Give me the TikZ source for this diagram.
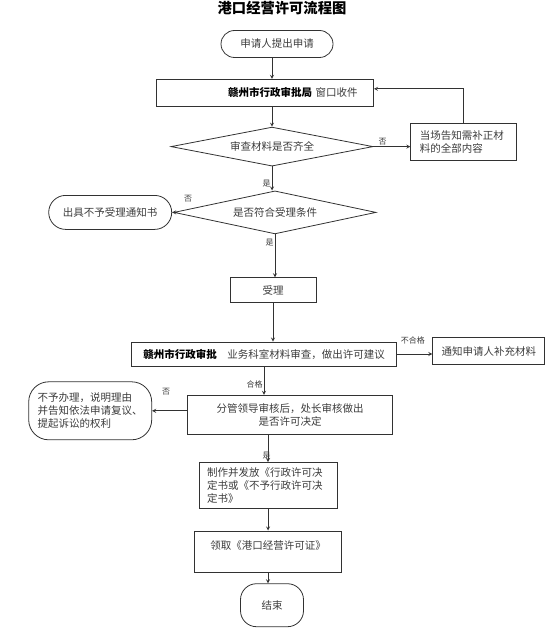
\documentclass[tikz,border=0pt]{standalone}
\usepackage{fontspec}
\setmainfont{Noto Sans CJK SC}
\usetikzlibrary{shapes.geometric, arrows.meta, positioning}
\definecolor{charcoal}{RGB}{50, 50, 50}
\definecolor{inkgray}{RGB}{60, 60, 60}

\begin{document}
\begin{tikzpicture}[x=1pt, y=-1pt,
            stepbox/.style={draw=charcoal, line width=0.8pt, align=center, text=inkgray, inner sep=2pt, font=\fontsize{10.5}{13}\selectfont},
            check/.style={draw=charcoal, line width=0.8pt, diamond, aspect=5, inner sep=0pt, text=inkgray, font=\fontsize{10.5}{13}\selectfont},
            terminal/.style={draw=charcoal, line width=0.8pt, align=center, text=inkgray, inner sep=2pt, font=\fontsize{10.5}{13}\selectfont},
            lbl/.style={text=inkgray, inner sep=1pt, font=\fontsize{8}{9}\selectfont}
        ]
            \useasboundingbox (0,0) rectangle (554,631);

            % Title
            \node[font=\fontsize{14.3}{16}\selectfont\bfseries] (title) at (282,8) {港口经营许可流程图};

            % Intake
            \node[terminal, rounded corners=13.5pt, minimum width=112pt, minimum height=27pt] (apply) at (277,44) {申请人提出申请};
            \node[stepbox, minimum width=217pt, minimum height=27pt, text width=185pt, inner xsep=16pt, align=right, below=21pt of apply, xshift=-12pt] (window) {{\color{black}\bfseries 赣州市行政审批局}~窗口收件};

            \node[check, minimum width=202pt, minimum height=39pt, below=20pt of window, xshift=7pt] (check1) {审查材料是否齐全};
            \node[stepbox, minimum width=106pt, minimum height=37pt, text width=88pt, inner xsep=9pt, align=left, right=37pt of check1, yshift=5pt] (fixnote) {当场告知需补正材\\料的全部内容};

            \node[check, minimum width=202pt, minimum height=43pt, below=24pt of check1, xshift=3pt] (check2) {是否符合受理条件};
            \node[terminal, rounded corners=17pt, minimum width=123pt, minimum height=34pt, left=1.5pt of check2] (refuse) {出具不予受理通知书};

            % Review
            \node[stepbox, minimum width=86pt, minimum height=25pt, below=43pt of check2, xshift=-2pt] (accept) {受理};
            \node[stepbox, minimum width=265pt, minimum height=24pt, below=38.5pt of accept, xshift=-9pt] (review) {{\color{black}\bfseries 赣州市行政审批}\quad 业务科室材料审查，做出许可建议};
            \node[stepbox, minimum width=112pt, minimum height=27pt, right=35.5pt of review, yshift=3pt] (supply) {通知申请人补充材料};

            \node[stepbox, minimum width=205pt, minimum height=39pt, below=28.5pt of review, xshift=26pt] (decide) {分管领导审核后，处长审核做出\\是否许可决定};
            \node[terminal, rounded corners=20pt, minimum width=123pt, minimum height=58pt, text width=105pt, inner xsep=9pt, align=left, left=35pt of decide, yshift=4pt] (reject) {不予办理，说明理由\\并告知依法申请复议、\\提起诉讼的权利};

            % Issue
            \node[stepbox, minimum width=138pt, minimum height=46pt, text width=122pt, inner xsep=8pt, align=left, below=27.5pt of decide, xshift=-22pt] (issue) {制作并发放《行政许可决\\定书或《不予行政许可决\\定书》};
            \node[stepbox, minimum width=147pt, minimum height=41pt, below=21.5pt of issue] (fetch) {领取《港口经营许可证》\\~};
            \node[terminal, rounded corners=16pt, minimum width=63pt, minimum height=43pt, below=11pt of fetch, xshift=4pt] (finish) {结束};

            % Arrows
            \draw[->, >=stealth, line width=0.8pt, charcoal] ([xshift=-5pt]apply.south) -- ([xshift=-5pt]apply.south |- window.north);
            \draw[->, >=stealth, line width=0.8pt, charcoal] (window.south -| check1.north) -- (check1.north);
            \draw[->, >=stealth, line width=0.8pt, charcoal] (check1.east) -- node[lbl, above, pos=0.25] {否} (check1.east -| fixnote.west);
            \draw[->, >=stealth, line width=0.8pt, charcoal] (fixnote.north) |- ([yshift=4pt]window.east);
            \draw[->, >=stealth, line width=0.8pt, charcoal] (check1.south) -- node[lbl, left, pos=0.7] {是} (check1.south |- check2.north);
            \draw[->, >=stealth, line width=0.8pt, charcoal] (check2.west) -- node[lbl, pos=0, above right=9pt and 9pt] {否} (refuse.east);
            \draw[->, >=stealth, line width=0.8pt, charcoal] (check2.south) -- node[lbl, left, pos=0.2] {是} (check2.south |- accept.north);

            \draw[->, >=stealth, line width=0.8pt, charcoal] (accept.south) -- (accept.south |- review.north);
            \draw[->, >=stealth, line width=0.8pt, charcoal] (review.east) -- node[lbl, above=8pt, pos=0.45] {不合格} (review.east -| supply.west);
            \draw[->, >=stealth, line width=0.8pt, charcoal] (review.south) -- node[lbl, left, pos=0.65] {合格} (review.south |- decide.north);
            \draw[->, >=stealth, line width=0.8pt, charcoal] ([yshift=4pt]decide.west) -- node[lbl, above=14pt, pos=0.6] {否} ([yshift=4pt]decide.west -| reject.east);

            \draw[->, >=stealth, line width=0.8pt, charcoal] (decide.south -| issue.north) -- node[lbl, left, pos=0.75, xshift=4pt] {是} (issue.north);
            \draw[->, >=stealth, line width=0.8pt, charcoal] (issue.south) -- (fetch.north);
            \draw[->, >=stealth, line width=0.8pt, charcoal] (fetch.south) -- (fetch.south |- finish.north);

        \end{tikzpicture}
\end{document}
